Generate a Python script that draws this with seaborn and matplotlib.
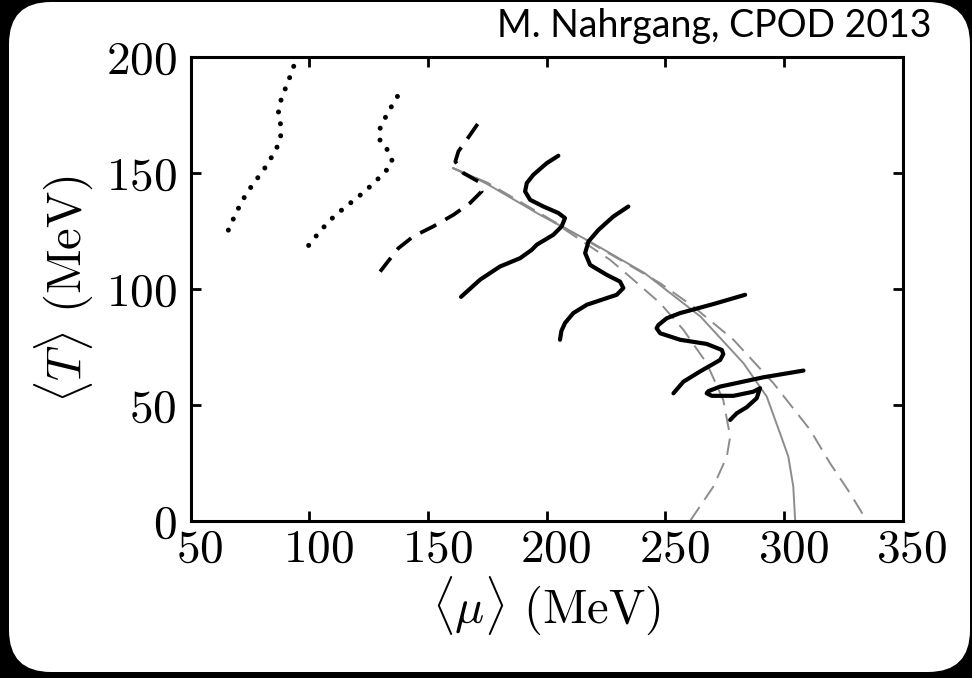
import numpy as np
import pandas as pd
import seaborn as sns
import matplotlib
matplotlib.use("Agg")
import matplotlib.pyplot as plt
from matplotlib.patches import FancyBboxPatch
from matplotlib.transforms import ScaledTranslation

# ---- data (mu in MeV, T in MeV) ----
dot1_mu = [93.4, 91.6, 89.7, 87.9, 86.9, 87.9, 87.9, 86.1, 83.5, 80.8, 77.6, 74.7, 71.9, 69.6, 67.4, 65.3]
dot1_T = [196.2, 191.1, 186.1, 181.2, 176.0, 170.9, 165.7, 160.6, 156.0, 151.6, 147.2, 143.1, 138.5, 133.9, 129.1, 124.2]

dot2_mu = [137.1, 134.4, 131.8, 129.5, 129.8, 133.4, 135.0, 132.0, 128.2, 124.4, 120.6, 116.3, 112.2, 108.3, 104.8, 101.4, 98.2]
dot2_T = [183.2, 178.5, 173.7, 168.8, 163.6, 159.6, 155.0, 150.7, 146.9, 143.2, 139.9, 136.4, 133.0, 129.4, 125.3, 121.2, 116.9]

dash_mu = [170.9, 166.3, 162.8, 161.5, 164.9, 171.2, 172.6, 167.7, 160.7, 152.2, 143.8, 137.5, 132.6, 129.8]
dash_T = [171.3, 164.5, 159.5, 155.1, 150.1, 146.5, 142.2, 137.2, 132.1, 127.1, 122.8, 117.7, 111.3, 107.6]

solid1_mu = [163.9, 171.9, 180.3, 188.8, 193.7, 195.8, 202.8, 206.3, 207.7, 204.9, 198.6, 193.0, 190.9, 191.6, 194.4, 200.0, 204.9]
solid1_T = [96.7, 104.1, 109.8, 113.4, 117.0, 119.2, 123.5, 127.1, 130.7, 132.9, 135.7, 138.6, 142.2, 145.8, 149.4, 154.4, 157.6]

solid2_mu = [205.6, 206.2, 207.7, 211.2, 216.9, 223.9, 229.5, 232.3, 230.9, 225.3, 218.3, 216.2, 217.6, 221.8, 228.1, 234.4]
solid2_T = [78.2, 82.0, 85.4, 89.7, 93.3, 95.7, 97.6, 100.5, 103.3, 106.2, 110.5, 115.6, 120.6, 125.6, 131.4, 135.7]

solid3_mu = [283.6, 270.2, 256.2, 250.6, 247.1, 246.3, 247.8, 256.2, 267.4, 273.8, 274.4, 273.1, 264.6, 257.6, 253.4]
solid3_T = [97.6, 93.6, 89.7, 87.5, 84.6, 83.2, 81.0, 78.2, 76.4, 73.8, 72.0, 69.5, 64.5, 60.1, 55.1]

solid4_mu = [308.2, 291.3, 273.1, 268.1, 267.4, 269.6, 278.7, 287.1, 289.9, 288.5, 284.3, 280.1, 277.3]
solid4_T = [64.9, 62.0, 58.0, 56.0, 55.1, 54.0, 54.0, 55.8, 57.3, 53.0, 49.1, 46.5, 43.6]

# grey reference lines
gray_solid_mu = [160.4, 171.9, 197.2, 218.3, 241.2, 264.8, 282.9, 292.7, 298.3, 301.8, 303.9, 304.7]
gray_solid_T = [152.3, 147.2, 132.1, 120.5, 107.0, 88.2, 68.1, 53.7, 37.9, 27.8, 14.8, 0.0]

gray_outer_mu = [160.4, 175.0, 200.0, 230.9, 247.8, 261.8, 278.7, 295.5, 311.0, 319.4, 327.8, 334.9]
gray_outer_T = [152.3, 146.0, 131.0, 112.7, 102.6, 92.5, 78.2, 59.5, 39.3, 24.9, 12.0, 0.0]

gray_inner_mu = [160.4, 175.0, 200.0, 226.7, 236.5, 247.8, 257.6, 267.4, 274.4, 277.3, 275.9, 270.2, 260.4]
gray_inner_T = [152.3, 145.5, 131.0, 112.7, 104.1, 94.0, 82.5, 68.1, 52.2, 36.4, 27.8, 14.8, 0.0]

x_ticks = [50, 100, 150, 200, 250, 300, 350]
y_ticks = [0, 50, 100, 150, 200]

sns.set_theme(style="ticks")
plt.rcParams["font.family"] = "serif"
plt.rcParams["font.serif"] = ["cmr10"]
plt.rcParams["mathtext.fontset"] = "cm"
plt.rcParams["axes.formatter.use_mathtext"] = True
for key in ["text.color", "axes.labelcolor", "xtick.color", "ytick.color",
            "xtick.labelcolor", "ytick.labelcolor"]:
    plt.rcParams[key] = "black"

fig = plt.figure(figsize=(9.72, 6.78), dpi=100, facecolor="black")

# rounded white card behind the plot
bg = fig.add_axes([0, 0, 1, 1], zorder=0)
bg.set_xlim(0, 972)
bg.set_ylim(0, 678)
bg.axis("off")
bg.add_patch(FancyBboxPatch((9 + 42, 6 + 42), 961 - 84, 670 - 84,
                            boxstyle="round,pad=42", fc="white", ec="none"))
bg.text(931, 641, "M. Nahrgang, CPOD 2013", ha="right", va="baseline",
        fontsize=27, family="Lato", color="black")

ax = fig.add_axes([0.1962, 0.2316, 0.7325, 0.6836], zorder=1)
ax.set_facecolor("none")

grey = "#8c8c8c"
dots = dict(color="black", lw=3.6, linestyle=(0, (0.01, 2.4)), dash_capstyle="round")
curves = [
    (gray_solid_mu, gray_solid_T, dict(color=grey, lw=1.4, linestyle="-")),
    (gray_outer_mu, gray_outer_T, dict(color=grey, lw=1.4, linestyle=(0, (8.5, 4.5)))),
    (gray_inner_mu, gray_inner_T, dict(color=grey, lw=1.4, linestyle=(0, (8.5, 4.5)))),
    (dot1_mu, dot1_T, dots),
    (dot2_mu, dot2_T, dots),
    (dash_mu, dash_T, dict(color="black", lw=2.7, linestyle=(0, (4.8, 2.8)))),
    (solid1_mu, solid1_T, dict(color="black", lw=3.0, linestyle="-")),
    (solid2_mu, solid2_T, dict(color="black", lw=3.0, linestyle="-")),
    (solid3_mu, solid3_T, dict(color="black", lw=3.0, linestyle="-")),
    (solid4_mu, solid4_T, dict(color="black", lw=3.0, linestyle="-")),
]
for mu, T, style in curves:
    df = pd.DataFrame({"mu": mu, "T": T})
    sns.lineplot(data=df, x="mu", y="T", sort=False, estimator=None, ax=ax, **style)

ax.set_xlim(50, 350)
ax.set_ylim(0, 200)
ax.set_xticks(x_ticks)
ax.set_yticks(y_ticks)
ax.set_xlabel(r"$\langle\mu\rangle$ (MeV)", fontsize=35, labelpad=2)
ax.set_ylabel(r"$\langle T\rangle$ (MeV)", fontsize=35, labelpad=8)
ax.tick_params(direction="in", length=7, width=2, labelsize=34,
               top=True, right=True, color="black", labelcolor="black")
ax.tick_params(axis="x", pad=6)
ax.tick_params(axis="y", pad=10)
for s in ax.spines.values():
    s.set_linewidth(2.2)
    s.set_color("black")
    s.set_visible(True)

# the x tick labels sit a little to the right of their ticks in the original
shift = ScaledTranslation(9 / 100, 0, fig.dpi_scale_trans)
for lab in ax.get_xticklabels():
    lab.set_transform(lab.get_transform() + shift)

fig.savefig("out.png", dpi=100, facecolor="black")
